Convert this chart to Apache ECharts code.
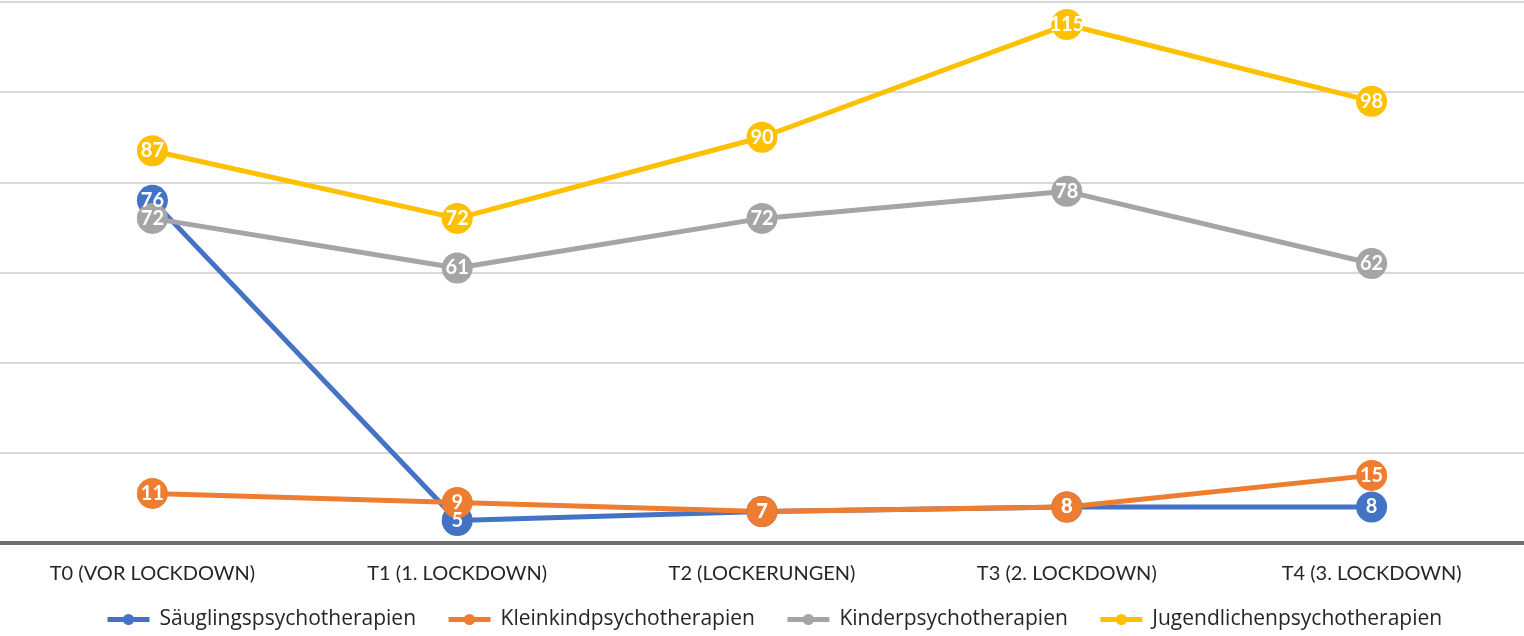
<!DOCTYPE html>
<html><head><meta charset="utf-8">
<script src="https://cdn.jsdelivr.net/npm/echarts@6/dist/echarts.min.js"></script>
<style>html,body{margin:0;padding:0;background:#fff}#c{width:1524px;height:636px}</style>
</head><body><div id="c"></div>
<script>
const categories = ['T0 (VOR LOCKDOWN)', 'T1 (1. LOCKDOWN)', 'T2 (LOCKERUNGEN)', 'T3 (2. LOCKDOWN)', 'T4 (3. LOCKDOWN)'];
const seriesNames = ['Säuglingspsychotherapien', 'Kleinkindpsychotherapien', 'Kinderpsychotherapien', 'Jugendlichenpsychotherapien'];
const saeugling = [76, 5, 7, 8, 8];
const kleinkind = [11, 9, 7, 8, 15];
const kinder = [72, 61, 72, 78, 62];
const jugend = [87, 72, 90, 115, 98];
const colors = ['#4472C4', '#ED7D31', '#A5A5A5', '#FFC000'];
const values = [saeugling, kleinkind, kinder, jugend];

const chart = echarts.init(document.getElementById('c'));
const font = 'Lato, "Open Sans", sans-serif';
chart.setOption({
  animation: false,
  textStyle: { fontFamily: font },
  grid: { left: 0, right: 0, top: 2, bottom: 93 },
  legend: {
    bottom: 1,
    left: 100,
    itemWidth: 42,
    itemHeight: 14,
    itemGap: 30,
    lineStyle: { width: 5 },
    textStyle: { fontSize: 21, color: '#262626', fontFamily: '"Open Sans", sans-serif', padding: [0, 0, 0, 5] },
    data: seriesNames
  },
  xAxis: {
    type: 'category',
    data: categories,
    boundaryGap: true,
    axisLine: { lineStyle: { color: '#6e6e6e', width: 4 } },
    axisTick: { show: false },
    axisLabel: { fontSize: 20, color: '#262626', margin: 21, fontFamily: font }
  },
  yAxis: {
    type: 'value',
    min: 0, max: 120, interval: 20,
    axisLine: { show: false },
    axisTick: { show: false },
    axisLabel: { show: false },
    splitLine: { lineStyle: { color: '#d9d9d9', width: 2 } }
  },
  series: values.map((v, i) => ({
    name: seriesNames[i],
    type: 'line',
    data: v,
    symbol: 'circle',
    symbolSize: 31,
    itemStyle: { color: colors[i] },
    lineStyle: { width: 5, color: colors[i] },
    label: {
      show: true,
      position: 'inside',
      color: '#fff',
      fontWeight: 'bold',
      fontSize: 20,
      fontFamily: font
    }
  }))
});
</script></body></html>
